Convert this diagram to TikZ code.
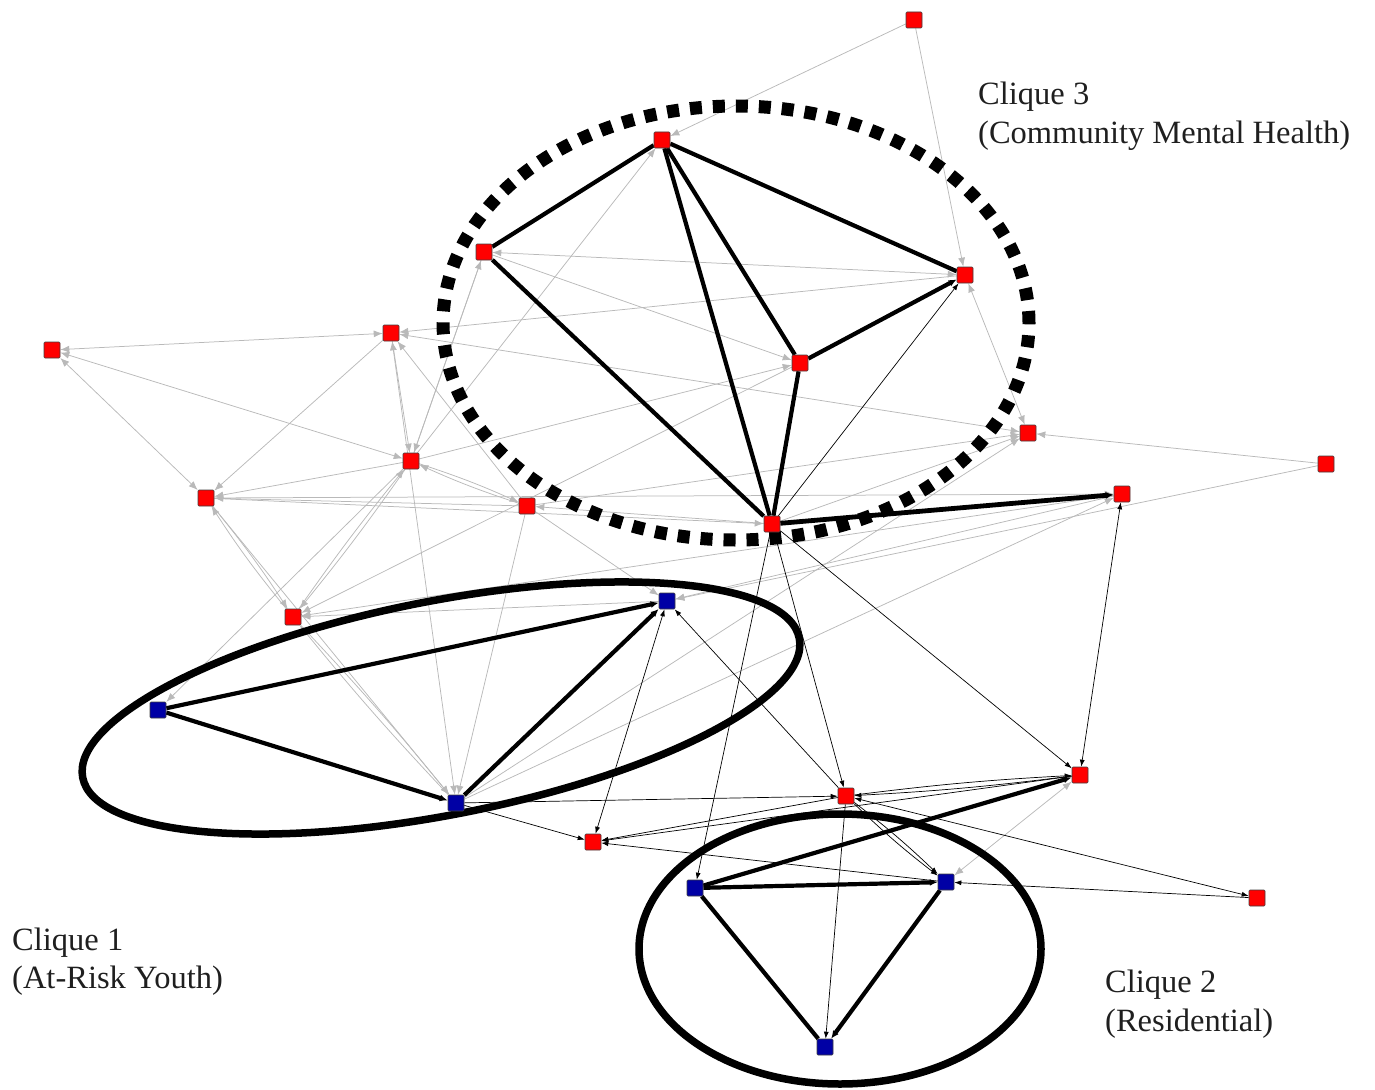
\documentclass[tikz,border=0pt]{standalone}
\usepackage{fontspec}
\setmainfont{Liberation Serif}
\usetikzlibrary{arrows.meta}
\definecolor{nred}{RGB}{255,0,0}
\definecolor{nblue}{RGB}{0,0,165}
\definecolor{gline}{RGB}{185,185,185}
\pgfdeclarelayer{gl}
\pgfdeclarelayer{rings}
\pgfdeclarelayer{bl}
\pgfsetlayers{gl,rings,bl,main}
\begin{document}
\begin{tikzpicture}[x=1pt,y=-1pt,
  rn/.style={draw=black!75, fill=nred, line width=0.6pt, minimum size=16pt, inner sep=0pt, rounded corners=1pt},
  bn/.style={rn, fill=nblue},
  ge/.style={draw=gline, line width=0.75pt, -{Latex[length=9pt,width=7pt,fill=gline]}},
  gb/.style={draw=gline, line width=0.75pt, {Latex[length=9pt,width=7pt,fill=gline]}-{Latex[length=9pt,width=7pt,fill=gline]}},
  be/.style={draw=black, line width=0.7pt, -{Latex[length=7pt,width=5pt]}},
  bb/.style={draw=black, line width=0.7pt, {Latex[length=7pt,width=5pt]}-{Latex[length=7pt,width=5pt]}},
  te/.style={draw=black, line width=4.2pt},
  ta/.style={te, -{Latex[length=8pt,width=7pt]}},
  ring/.style={draw=black, line width=7.5pt},
  lab/.style={font=\fontsize{32.5}{39}\selectfont, text=black!88, anchor=base west, inner sep=0pt}
]
\useasboundingbox (0,0) rectangle (1375,1089);
% nodes
\node[rn] (n1) at (914,20) {};
\node[rn] (n2) at (662,140) {};
\node[rn] (n3) at (484,252) {};
\node[rn] (n4) at (965,275) {};
\node[rn] (n5) at (391,333) {};
\node[rn] (n6) at (52,350) {};
\node[rn] (n7) at (800,363) {};
\node[rn] (n8) at (1028,433) {};
\node[rn] (n9) at (1326,464) {};
\node[rn] (n10) at (411,461) {};
\node[rn] (n11) at (206,498) {};
\node[rn] (n12) at (527,506) {};
\node[rn] (n13) at (1122,494) {};
\node[rn] (n14) at (772,524) {};
\node[rn] (n15) at (293,617) {};
\node[rn] (n16) at (1080,775) {};
\node[rn] (n17) at (846,796) {};
\node[rn] (n18) at (593,842) {};
\node[rn] (n19) at (1257,898) {};
\node[bn] (b1) at (667,601) {};
\node[bn] (b2) at (158,710) {};
\node[bn] (b3) at (456,803) {};
\node[bn] (b4) at (695,888) {};
\node[bn] (b5) at (946,882) {};
\node[bn] (b6) at (825,1047) {};
% labels
\node[lab] (l3a) at (978,105) {Clique 3};
\node[lab] (l3b) at (978,143) {(Community Mental Health)};
\node[lab] (l1a) at (12,950) {Clique 1};
\node[lab] (l1b) at (12,988) {(At-Risk Youth)};
\node[lab] (l2a) at (1105,992) {Clique 2};
\node[lab] (l2b) at (1105,1031) {(Residential)};
% grey edges
\begin{pgfonlayer}{gl}
\draw[ge] (n1) -- (n2);
\draw[ge] (n1) -- (n4);
\draw[gb] (n4) -- (n8);
\draw[ge] (n9) -- (n8);
\draw[ge] (n9) -- (b1);
\draw[gb] (n4) -- (n3);
\draw[ge] (n3) -- (n7);
\draw[ge] (n4) -- (n5);
\draw[gb] (n8) -- (n5);
\draw[ge] (n12) -- (n5);
\draw[ge] (n10) -- (n3);
\draw[ge] (n10) -- (n2);
\draw[ge] (n10) -- (n7);
\draw[gb] (n6) -- (n5);
\draw[gb] (n6) -- (n10);
\draw[gb] (n6) -- (n11);
\draw[ge] (n5) -- (n11);
\draw[ge] (n10) -- (n11);
\draw[ge] (n12) -- (n11);
\draw[ge] (n11) to[bend left=3] (n15);
\draw[ge] (n15) to[bend left=3] (n11);
\draw[ge] (n3) -- (n10);
\draw[ge] (n10) to[bend left=2] (n15);
\draw[ge] (n15) to[bend left=2] (n10);
\draw[ge] (n10) -- (b2);
\draw[ge] (n7) -- (n15);
\draw[ge] (n13) -- (n15);
\draw[ge] (b1) -- (n15);
\draw[ge] (n10) to[bend left=3] (n12);
\draw[ge] (n12) to[bend left=3] (n10);
\draw[ge] (n11) -- (n14);
\draw[ge] (n11) -- (n13);
\draw[ge] (n14) -- (n12);
\draw[ge] (n12) -- (b1);
\draw[ge] (n12) -- (n8);
\draw[ge] (b3) -- (n8);
\draw[ge] (b3) -- (n13);
\draw[ge] (n14) -- (n8);
\draw[ge] (n5) -- (n10);
\draw[gb] (b3) -- (n5);
\draw[ge] (n11) -- (b3);
\draw[ge] (n15) to[bend left=2] (b3);
\draw[ge] (b3) to[bend left=2] (n15);
\draw[ge] (n12) -- (b3);
\draw[ge] (n13) -- (b1);
\draw[gb] (n16) -- (b5);
\end{pgfonlayer}
% rings
\begin{pgfonlayer}{rings}
\draw[draw=black, line width=13pt, dash pattern=on 12pt off 11pt] (736,323) ellipse [x radius=293pt, y radius=217pt];
\draw[ring, rotate around={11:(441,708)}] (441,708) ellipse [x radius=365pt, y radius=107pt];
\draw[ring] (840,949) ellipse [x radius=201pt, y radius=135pt];
\end{pgfonlayer}
% black edges
\begin{pgfonlayer}{bl}
\draw[be] (n14) -- (n4);
\draw[be] (n14) -- (b4);
\draw[be] (n14) -- (n17);
\draw[be] (n14) -- (n16);
\draw[bb] (n13) -- (n16);
\draw[bb] (b1) -- (n18);
\draw[be] (n17) -- (b1);
\draw[be] (b3) -- (n17);
\draw[be] (b3) -- (n18);
\draw[be] (n17) -- (n18);
\draw[be] (n16) -- (n18);
\draw[be] (b5) -- (n18);
\draw[be] (n16) to[bend left=2] (n17);
\draw[be] (n17) to[bend left=2] (n16);
\draw[be] (n17) to[bend left=3] (b5);
\draw[be] (n17) to[bend right=3] (b5);
\draw[be] (n17) -- (b6);
\draw[bb] (n17) -- (n19);
\draw[be] (n19) -- (b5);
% thick
\draw[te] (n2) -- (n3);
\draw[te] (n2) -- (n4);
\draw[te] (n2) -- (n7);
\draw[te] (n2) -- (n14);
\draw[te] (n3) -- (n14);
\draw[ta] (n7) -- (n4);
\draw[te] (n7) -- (n14);
\draw[ta, line width=4.8pt] (n14) -- (n13);
\draw[ta] (b2) -- (b1);
\draw[ta] (b2) -- (b3);
\draw[ta] (b3) -- (b1);
\draw[ta] (b4) -- (b5);
\draw[te] (b4) -- (b6);
\draw[ta] (b5) -- (b6);
\draw[ta] (b4) -- (n16);
\end{pgfonlayer}
\end{tikzpicture}
\end{document}
